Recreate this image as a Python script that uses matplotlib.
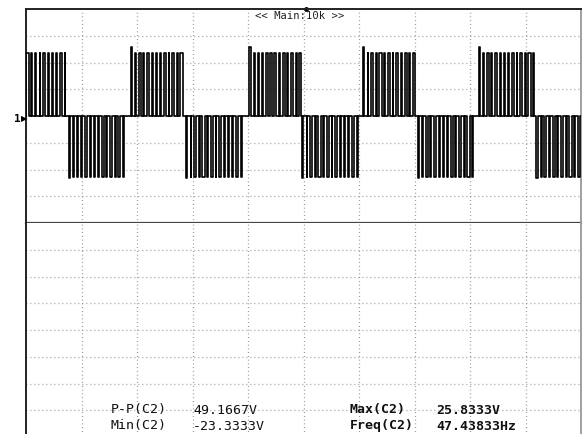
import numpy as np
import matplotlib
matplotlib.use('Agg')
import matplotlib.pyplot as plt

# scope settings (10 ms/div, 10 V/div)
t_span = 100.0          # ms, 10 div
v_span = 40.0           # +-4 div of 10 V

# half-cycle edges (ms) and polarity, starting with a positive half
edges = [0, 7.4, 18.6, 28.6, 40.0, 49.5, 60.5, 70.3, 81.3, 91.7, 100]
signs = [1, -1, 1, -1, 1, -1, 1, -1, 1, -1]
pos_level = 23.5
neg_level = -22.8
pos_peak = 25.8333
neg_peak = -23.3333

# pulse duty inside one half cycle (estimated from the pulse train)
duty = [0.3, 0.15, 0.45, 0.2, 0.6, 0.25, 0.35, 0.15, 0.5, 0.2,
        0.4, 0.25, 0.55, 0.2]
half_ms = 10.55

# measurement readout
meas_left = [('P-P(C2)', '49.1667V'), ('Min(C2)', '-23.3333V')]
meas_right = [('Max(C2)', '25.8333V'), ('Freq(C2)', '47.43833Hz')]

# build the switched waveform
tt = []
vv = []
for k in range(len(signs)):
    t0, t1 = edges[k], edges[k + 1]
    s = signs[k]
    lev = pos_level if s > 0 else neg_level
    pk = pos_peak if s > 0 else neg_peak
    w = half_ms / len(duty)
    # first half is cut by the left screen edge
    if k == 0:
        start = t1 - half_ms
    else:
        start = t0
    for i, d in enumerate(duty):
        ps = start + i * w
        on0 = ps + (1 - d) * w / 2
        on1 = on0 + d * w
        if on1 < t0 or on0 > t1:
            continue
        on0 = max(on0, t0)
        on1 = min(on1, t1)
        tt += [on0, on1]
        vv += [pk if i == 0 else lev, 0.0]
tt = [0.0] + tt + [100.0]
vv = [0.0] + vv + [0.0]

W, H = 588, 434
fig = plt.figure(figsize=(W / 100, H / 100), dpi=100)
fig.patch.set_facecolor('white')

L = 26 / W
Wd = (581 - 26) / W
ax1 = fig.add_axes([L, 1 - 223 / H, Wd, 214 / H])
ax2 = fig.add_axes([L, 1 - 437 / H, Wd, 214 / H])

for ax in (ax1, ax2):
    ax.set_xlim(0, t_span)
    ax.set_ylim(-v_span, v_span)
    ax.set_xticks([])
    ax.set_yticks([])
    for x in range(10, 100, 10):
        ax.axvline(x, color='#7a7a7a', lw=0.9, ls=(0, (0.6, 2.4)), zorder=1)
    for y in range(-30, 40, 10):
        ax.axhline(y, color='#7a7a7a', lw=0.9, ls=(0, (0.6, 2.6)), zorder=1)
    ax.spines['left'].set_color('#222222')
    ax.spines['left'].set_linewidth(1.4)
    ax.spines['right'].set_color('#a0a0a0')
    ax.spines['right'].set_linewidth(1.4)
    ax.spines['top'].set_color('#222222')
    ax.spines['top'].set_linewidth(1.4)
    ax.spines['bottom'].set_color('#444444')
    ax.spines['bottom'].set_linewidth(1.6)
ax2.spines['top'].set_visible(False)

ax1.plot(tt, vv, drawstyle='steps-post', color='black', lw=1.2, zorder=3)

# trigger mark and header
ax1.plot([50.5], [v_span], marker='o', ms=2.5, color='black', clip_on=False)
fig.text(300 / W, 1 - 16 / H, '<< Main:10k >>', family='DejaVu Sans Mono',
         fontsize=7.6, ha='center', va='center', color='#222222')

# channel marker
fig.text(17 / W, 1 - 119 / H, '1', family='DejaVu Sans Mono', fontsize=8,
         fontweight='bold', ha='center', va='center')
fig.text(24 / W, 1 - 119 / H, '\u25b6', family='DejaVu Sans', fontsize=6,
         ha='center', va='center')

# readout
rows_y = [410, 426]
for (name, val), y in zip(meas_left, rows_y):
    fig.text(111 / W, 1 - y / H, name, family='DejaVu Sans Mono', fontsize=9.5,
             ha='left', va='center', color='#111111')
    fig.text(193 / W, 1 - y / H, val, family='DejaVu Sans Mono', fontsize=9.5,
             ha='left', va='center', color='#111111')
for (name, val), y in zip(meas_right, rows_y):
    fig.text(350 / W, 1 - y / H, name, family='DejaVu Sans Mono', fontsize=9.5,
             fontweight='bold', ha='left', va='center', color='#111111')
    fig.text(436 / W, 1 - y / H, val, family='DejaVu Sans Mono', fontsize=9.5,
             fontweight='bold', ha='left', va='center', color='#111111')

fig.savefig('out.png', dpi=100)
